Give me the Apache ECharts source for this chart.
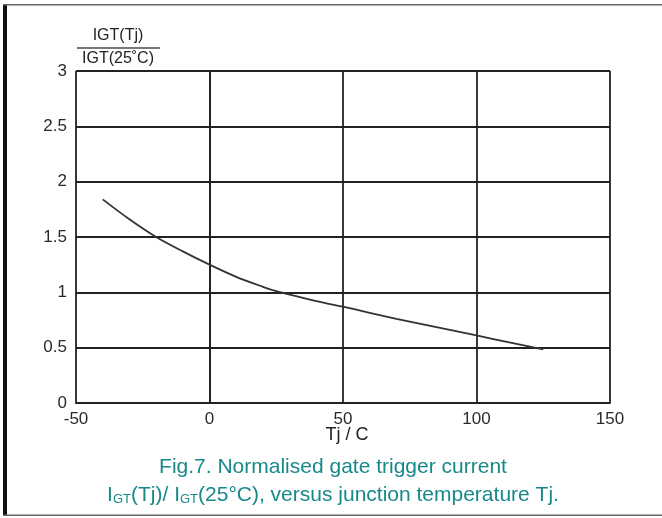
<!DOCTYPE html>
<html>
<head>
<meta charset="utf-8">
<script src="https://cdn.jsdelivr.net/npm/echarts@6/dist/echarts.min.js"></script>
<style>
  html, body { margin: 0; padding: 0; background: #fff; }
  #chart { width: 662px; height: 518px; }
</style>
</head>
<body>
<div id="chart"></div>
<script>
// Junction temperature (°C) and normalised gate trigger current IGT(Tj)/IGT(25°C)
const tempC = [-40, -30, -20, -10, 0, 10, 20, 25, 30, 40, 50, 60, 70, 80, 90, 100, 110, 120, 125];
const igtRatio = [1.84, 1.66, 1.50, 1.37, 1.25, 1.14, 1.05, 1.01, 0.98, 0.92, 0.87, 0.815, 0.76, 0.71, 0.66, 0.61, 0.56, 0.51, 0.485];

const xTicks = { min: -50, max: 150, step: 50 };
const yTicks = { min: 0, max: 3, step: 0.5 };

const xAxisTitle = 'Tj / C';
const captionLine1 = 'Fig.7. Normalised gate trigger current';
const teal = '#17898a';
const ink = '#222';
const font = '"Liberation Sans", Arial, sans-serif';

const chart = echarts.init(document.getElementById('chart'), null, { renderer: 'canvas' });

chart.setOption({
  backgroundColor: '#fff',
  animation: false,
  grid: { left: 76, right: 52, top: 71, bottom: 115, containLabel: false },
  xAxis: {
    type: 'value',
    min: xTicks.min, max: xTicks.max, interval: xTicks.step,
    axisLine: { show: true, lineStyle: { color: ink, width: 1.8 } },
    axisTick: { show: false },
    axisLabel: { color: '#2a2a2a', fontSize: 17, fontFamily: font, margin: 8 },
    splitLine: { show: true, lineStyle: { color: ink, width: 1.8 } }
  },
  yAxis: {
    type: 'value',
    min: yTicks.min, max: yTicks.max, interval: yTicks.step,
    axisLine: { show: true, lineStyle: { color: ink, width: 1.8 } },
    axisTick: { show: false },
    axisLabel: { color: '#2a2a2a', fontSize: 17, fontFamily: font, margin: 9 },
    splitLine: { show: true, lineStyle: { color: ink, width: 1.8 } }
  },
  series: [{
    type: 'line',
    data: tempC.map((t, i) => [t, igtRatio[i]]),
    smooth: 0.3,
    showSymbol: false,
    lineStyle: { color: '#333', width: 1.8 }
  }],
  graphic: [
    // page frame: heavy rule on the left, thin rules top and bottom
    { type: 'rect', shape: { x: 3, y: 4, width: 4, height: 512 }, style: { fill: '#111' } },
    { type: 'rect', shape: { x: 3, y: 4, width: 659, height: 1.5 }, style: { fill: '#666' } },
    { type: 'rect', shape: { x: 3, y: 514.5, width: 659, height: 1.5 }, style: { fill: '#666' } },
    // y-axis quantity written as a fraction
    { type: 'text', x: 118, y: 44, style: { text: 'IGT(Tj)', fill: ink, font: '16px ' + font, align: 'center', verticalAlign: 'bottom' } },
    { type: 'line', shape: { x1: 77, y1: 48, x2: 160, y2: 48 }, style: { stroke: '#777', lineWidth: 2 } },
    { type: 'text', x: 118, y: 51, style: { text: 'IGT(25˚C)', fill: ink, font: '16px ' + font, align: 'center', verticalAlign: 'top' } },
    // x-axis title, tucked just under the tick labels
    { type: 'text', x: 347, y: 435, style: { text: xAxisTitle, fill: ink, font: '18px ' + font, align: 'center', verticalAlign: 'middle' } },
    // caption
    { type: 'text', x: 333, y: 457, style: { text: captionLine1, fill: teal, font: '21px ' + font, align: 'center' } },
    { type: 'text', x: 333, y: 484, style: {
        text: 'I{s|GT}(Tj)/ I{s|GT}(25°C), versus junction temperature Tj.',
        fill: teal, font: '21px ' + font, align: 'center',
        rich: { s: { fontSize: 13, fontFamily: font, fill: teal, padding: [9, 0, 0, 0] } }
      } }
  ]
});
</script>
</body>
</html>
